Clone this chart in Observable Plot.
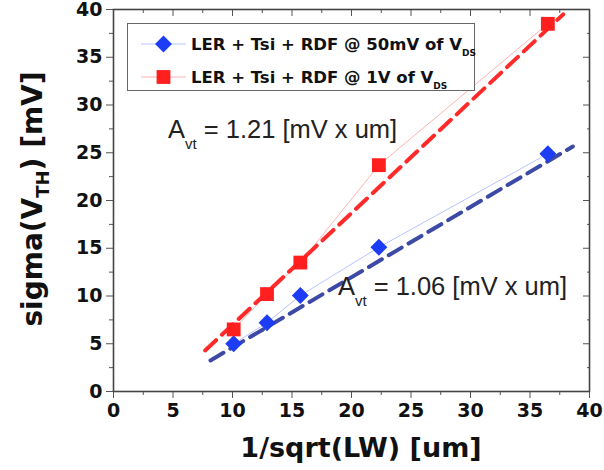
<!DOCTYPE html>
<html><head><meta charset="utf-8">
<script src="https://cdn.jsdelivr.net/npm/d3@7"></script>
<script src="https://cdn.jsdelivr.net/npm/@observablehq/plot@0.6"></script>
<style>
html,body{margin:0;padding:0;background:#fff;}
#chart{width:604px;height:470px;}
</style></head><body><div id="chart"></div>
<script>
// ---- data ----
const sizes = [10.1, 12.9, 15.7, 22.3, 36.5];           // 1/sqrt(LW) [um]
const sigma50mV = [5.0, 7.2, 10.05, 15.1, 24.9];        // sigma(VTH) @ 50mV
const sigma1V = [6.5, 10.2, 13.5, 23.7, 38.5];          // sigma(VTH) @ 1V
const fitRedX = [7.7, 37.8];
const fitRedY = [4.3, 39.5];
const fitBlueX = [8.15, 38.6];
const fitBlueY = [3.25, 25.65];
const majorTicks = [0, 5, 10, 15, 20, 25, 30, 35, 40];
const minorTicks = [2.5, 7.5, 12.5, 17.5, 22.5, 27.5, 32.5, 37.5];
const seriesNames = ["LER + Tsi + RDF @ 50mV of V", "LER + Tsi + RDF @ 1V of V"];
const annotX = [4.62, 18.9];
const annotY = [26.5, 10.05];
const annotValues = ["1.21", "1.06"];

const blueCol = "#1c3cf5", redCol = "#ff1f1f";
const blueFit = "#3c4aa6", redFit = "#ff2b2b";
const blueThin = "#b9c3ff", redThin = "#ffb3b3";

const pts50 = sizes.map((x, i) => ({x, y: sigma50mV[i]}));
const pts1 = sizes.map((x, i) => ({x, y: sigma1V[i]}));
const fitR = fitRedX.map((x, i) => ({x, y: fitRedY[i]}));
const fitB = fitBlueX.map((x, i) => ({x, y: fitBlueY[i]}));

const axisFont = {fontFamily: "DejaVu Sans", fontWeight: "bold", fontSize: 19, fill: "#111"};
const blank = () => "";

const plot = Plot.plot({
  width: 604, height: 470,
  marginLeft: 113, marginRight: 15, marginTop: 9, marginBottom: 79,
  style: {fontFamily: "DejaVu Sans", background: "#fff", overflow: "visible"},
  x: {domain: [0, 40]},
  y: {domain: [0, 40]},
  marks: [
    Plot.line(pts50, {x: "x", y: "y", stroke: blueThin, strokeWidth: 1}),
    Plot.line(pts1, {x: "x", y: "y", stroke: redThin, strokeWidth: 1}),
    Plot.line(fitB, {x: "x", y: "y", stroke: blueFit, strokeWidth: 4, strokeDasharray: "15,8"}),
    Plot.line(fitR, {x: "x", y: "y", stroke: redFit, strokeWidth: 4, strokeDasharray: "15,8"}),
    Plot.dot(pts50, {x: "x", y: "y", symbol: "diamond2", r: 7.6, fill: blueCol, stroke: "none"}),
    Plot.dot(pts1, {x: "x", y: "y", symbol: "square", r: 7.8, fill: redCol, stroke: "none"}),
    Plot.axisX({anchor: "bottom", ticks: majorTicks, tickSize: 7, tickPadding: 5, label: null, ...axisFont, stroke: "#555"}),
    Plot.axisX({anchor: "bottom", ticks: minorTicks, tickSize: 4, tickFormat: blank, label: null, stroke: "#555"}),
    Plot.axisY({anchor: "left", ticks: majorTicks, tickSize: 7, tickPadding: 4, label: null, ...axisFont, stroke: "#555"}),
    Plot.axisY({anchor: "left", ticks: minorTicks, tickSize: 4, tickFormat: blank, label: null, stroke: "#555"}),
    Plot.axisX({anchor: "top", ticks: majorTicks, tickSize: -6, tickFormat: blank, label: null, stroke: "#555"}),
    Plot.axisX({anchor: "top", ticks: minorTicks, tickSize: -3, tickFormat: blank, label: null, stroke: "#555"}),
    Plot.axisY({anchor: "right", ticks: majorTicks, tickSize: -7, tickFormat: blank, label: null, stroke: "#555"}),
    Plot.axisY({anchor: "right", ticks: minorTicks, tickSize: -3, tickFormat: blank, label: null, stroke: "#555"}),
    Plot.frame({stroke: "#444", strokeWidth: 1.6})
  ]
});

document.getElementById("chart").appendChild(plot);

const svg = d3.select(plot);
const sx = plot.scale("x"), sy = plot.scale("y");

// axis titles
const xt = svg.append("text")
  .attr("x", 361).attr("y", 457)
  .attr("text-anchor", "middle")
  .style("font-family", "DejaVu Sans").style("font-weight", "bold").style("font-size", "27px").attr("fill", "#111");
xt.text("1/sqrt(LW) [um]");

const yt = svg.append("text")
  .attr("transform", "translate(42,199) rotate(-90)")
  .attr("text-anchor", "middle")
  .style("font-family", "DejaVu Sans").style("font-weight", "bold").style("font-size", "28px").attr("fill", "#111");
yt.append("tspan").text("sigma(V");
yt.append("tspan").attr("dy", 7).style("font-size", "18px").text("TH");
yt.append("tspan").attr("dy", -7).text(") [mV]");

// annotations
annotValues.forEach((v, i) => {
  const t = svg.append("text")
    .attr("x", sx.apply(annotX[i])).attr("y", sy.apply(annotY[i]))
    .attr("text-anchor", "start")
    .style("font-family", "Liberation Sans").style("font-size", "25.5px").attr("fill", "#222");
  t.append("tspan").text("A");
  t.append("tspan").attr("dy", 11).style("font-size", "15px").text("vt");
  t.append("tspan").attr("dy", -11).text(" = " + v + " [mV x um]");
});

// legend
const lg = svg.append("g");
lg.append("rect").attr("x", 127.5).attr("y", 23.5).attr("width", 347).attr("height", 67)
  .attr("fill", "#fff").attr("stroke", "#666").attr("stroke-width", 1);
const legendRows = [
  {y: 44, thin: blueThin, col: blueCol, sym: d3.symbolDiamond2, size: Math.PI * 7.6 * 7.6},
  {y: 77, thin: redThin, col: redCol, sym: d3.symbolSquare, size: Math.PI * 7.8 * 7.8}
];
legendRows.forEach((r, i) => {
  lg.append("line").attr("x1", 141).attr("x2", 186).attr("y1", r.y).attr("y2", r.y).attr("stroke", r.thin).attr("stroke-width", 1);
  lg.append("path").attr("d", d3.symbol(r.sym, r.size)()).attr("transform", `translate(163.5,${r.y})`).attr("fill", r.col);
  const t = lg.append("text").attr("x", 191).attr("y", r.y + 6)
    .attr("text-anchor", "start")
    .style("font-family", "DejaVu Sans").style("font-weight", "bold").style("font-size", "16.5px").attr("fill", "#111");
  t.append("tspan").text(seriesNames[i]);
  t.append("tspan").attr("dy", 6).style("font-size", "9px").text("DS");
});
</script>
</body></html>
